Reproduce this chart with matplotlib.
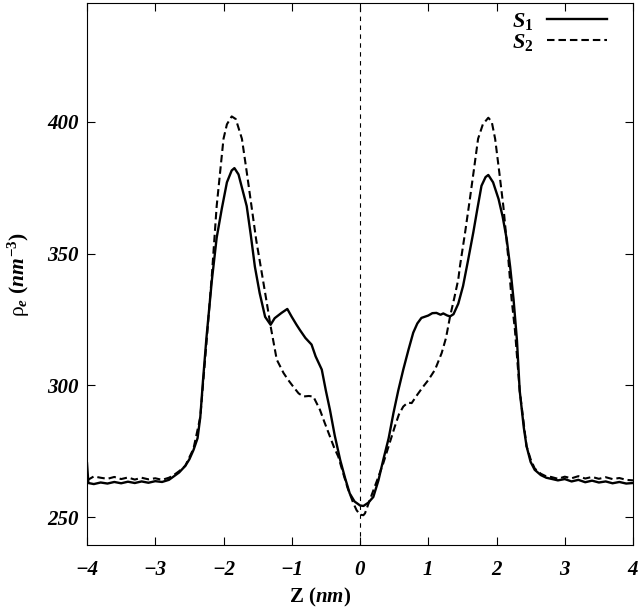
import numpy as np
import matplotlib
matplotlib.use("Agg")
import matplotlib.pyplot as plt

plt.rcParams['mathtext.fontset'] = 'custom'
plt.rcParams['mathtext.it'] = 'Liberation Serif:italic:bold'
plt.rcParams['mathtext.rm'] = 'Liberation Serif:bold'
plt.rcParams['mathtext.bf'] = 'Liberation Serif:bold'
plt.rcParams['mathtext.sf'] = 'Liberation Serif'

# S1 (solid), values
z_s1 = [-4.00, -3.98, -3.90, -3.80, -3.70, -3.60, -3.50, -3.40, -3.30, -3.20, -3.10,
        -3.00, -2.90, -2.80, -2.74, -2.65, -2.56, -2.50, -2.44, -2.38, -2.34, -2.30,
        -2.25, -2.17, -2.10, -2.025, -1.95, -1.88, -1.84, -1.78, -1.72, -1.66, -1.60,
        -1.54, -1.47, -1.39, -1.31, -1.25, -1.15, -1.065, -1.00, -0.93, -0.88, -0.80,
        -0.71, -0.65, -0.56, -0.50, -0.44, -0.37, -0.29, -0.22, -0.15, -0.08, 0.00,
        0.05, 0.12, 0.195, 0.27, 0.34, 0.42, 0.49, 0.56, 0.634, 0.71, 0.78, 0.84,
        0.90, 1.00, 1.06, 1.12, 1.18, 1.22, 1.28, 1.32, 1.37, 1.44, 1.51, 1.58, 1.66,
        1.72, 1.78, 1.84, 1.88, 1.95, 2.03, 2.09, 2.15, 2.20, 2.25, 2.30, 2.34, 2.40,
        2.44, 2.50, 2.56, 2.65, 2.73, 2.80, 2.90, 3.00, 3.10, 3.20, 3.30, 3.40, 3.50,
        3.60, 3.70, 3.80, 3.90, 4.00]
rho_s1 = [270.5, 263.0, 262.6, 263.2, 262.8, 263.4, 262.9, 263.5, 263.0, 263.6, 263.1,
          263.7, 263.4, 264.2, 265.3, 267.0, 269.5, 272.0, 275.5, 280.0, 288.0, 302.0,
          318.0, 340.0, 356.0, 367.0, 377.0, 381.5, 382.4, 380.0, 374.0, 368.0, 357.0,
          345.0, 335.0, 326.0, 323.0, 325.5, 327.5, 329.0, 326.0, 323.0, 321.0, 318.0,
          315.5, 311.0, 306.0, 298.0, 290.7, 281.0, 271.7, 265.0, 259.0, 256.0, 254.5,
          254.3, 255.5, 257.7, 264.0, 271.7, 280.0, 289.5, 298.0, 306.0, 313.5, 320.0,
          323.5, 325.6, 326.5, 327.4, 327.5, 326.8, 327.3, 326.5, 326.2, 327.0, 331.0,
          337.7, 347.0, 358.0, 367.0, 375.7, 379.0, 379.8, 377.0, 370.7, 364.0, 355.4,
          345.0, 332.6, 317.0, 298.0, 284.0, 277.0, 271.0, 268.0, 266.0, 265.0, 264.6,
          264.0, 264.5, 263.6, 264.2, 263.3, 263.9, 263.2, 263.6, 262.9, 263.4, 262.8,
          263.0]

# S2 (dashed)
z_s2 = [-4.00, -3.90, -3.80, -3.70, -3.60, -3.50, -3.40, -3.30, -3.20, -3.10, -3.00,
        -2.90, -2.80, -2.74, -2.65, -2.56, -2.44, -2.34, -2.25, -2.17, -2.10, -2.00,
        -1.95, -1.88, -1.82, -1.73, -1.66, -1.59, -1.52, -1.44, -1.37, -1.31, -1.22,
        -1.12, -1.05, -0.98, -0.90, -0.83, -0.75, -0.684, -0.63, -0.586, -0.52, -0.44,
        -0.38, -0.318, -0.25, -0.18, -0.10, -0.05, 0.00, 0.05, 0.073, 0.15, 0.25, 0.34,
        0.42, 0.51, 0.57, 0.634, 0.70, 0.757, 0.84, 0.927, 1.00, 1.10, 1.197, 1.26,
        1.32, 1.38, 1.44, 1.465, 1.54, 1.61, 1.67, 1.73, 1.80, 1.88, 1.93, 1.98, 2.04,
        2.10, 2.17, 2.22, 2.27, 2.34, 2.44, 2.50, 2.56, 2.65, 2.73, 2.80, 2.90, 3.00,
        3.10, 3.20, 3.30, 3.40, 3.50, 3.60, 3.70, 3.80, 3.90, 4.00]
rho_s2 = [264.0, 265.5, 265.0, 264.6, 265.3, 264.5, 265.1, 264.3, 265.0, 264.4, 264.8,
          264.2, 265.0, 265.8, 267.5, 269.5, 276.0, 288.0, 316.0, 342.0, 368.0, 393.5,
          399.0, 402.0, 401.0, 393.5, 381.0, 368.0, 355.0, 342.8, 332.0, 322.5, 309.8,
          304.7, 302.0, 299.6, 297.0, 295.8, 296.0, 295.8, 293.0, 290.7, 286.0, 280.6,
          276.5, 273.0, 267.0, 261.0, 255.5, 252.7, 251.0, 250.8, 251.5, 257.0, 264.0,
          270.4, 277.0, 284.4, 289.0, 292.0, 293.5, 293.3, 296.5, 299.6, 302.0, 306.0,
          312.3, 318.0, 326.2, 333.0, 340.2, 345.3, 358.0, 370.7, 382.0, 393.5, 399.0,
          401.5, 400.0, 393.5, 381.0, 368.0, 349.0, 333.0, 321.0, 298.0, 277.0, 272.0,
          268.5, 266.5, 265.5, 265.3, 264.6, 265.4, 264.8, 265.6, 264.7, 265.3, 264.6,
          265.2, 264.5, 264.9, 264.2, 264.0]

xticks = [-4, -3, -2, -1, 0, 1, 2, 3, 4]
yticks = [250, 300, 350, 400]

fig = plt.figure(figsize=(6.4, 6.1), dpi=100)
ax = fig.add_axes([87/640, 1 - 545/610, 546/640, 542/610])

ax.plot(z_s1, rho_s1, color='black', lw=1.7, label=r'$S_{\mathit{1}}$')
ax.plot(z_s2, rho_s2, color='black', lw=1.5, linestyle=(0, (3.6, 1.9)), label=r'$S_{\mathit{2}}$')
ax.axvline(0, color='black', lw=0.8, linestyle=(0, (4, 4)))

ax.set_xlim(-4, 4)
ax.set_ylim(239.5, 445)
ax.set_xticks(xticks)
ax.set_yticks(yticks)
ax.tick_params(direction='in', length=6, width=0.8, top=True, right=True)
ax.tick_params(axis='x', pad=11)
ax.tick_params(axis='y', pad=6)
for lbl in ax.get_xticklabels() + ax.get_yticklabels():
    lbl.set_fontfamily('Liberation Serif')
    lbl.set_fontweight('bold')
    lbl.set_fontstyle('italic')
    lbl.set_fontsize(15)

ax.set_xlabel(r'$\mathbf{Z}\ (nm)$', fontsize=15)
ax.xaxis.set_label_coords((320 - 87) / 546, -0.075)
ax.set_ylabel(r'$\mathsf{\rho}_{e}\ (nm^{-3})$', fontsize=15.5)
ax.yaxis.set_label_coords(-0.1, 0.5)

ax.legend(loc='upper right', bbox_to_anchor=(0.969, 1.002), frameon=False,
          markerfirst=False, fontsize=16, handlelength=2.7, labelspacing=0.0,
          borderaxespad=0.0, handletextpad=0.6)

fig.savefig('out.png', dpi=100)
